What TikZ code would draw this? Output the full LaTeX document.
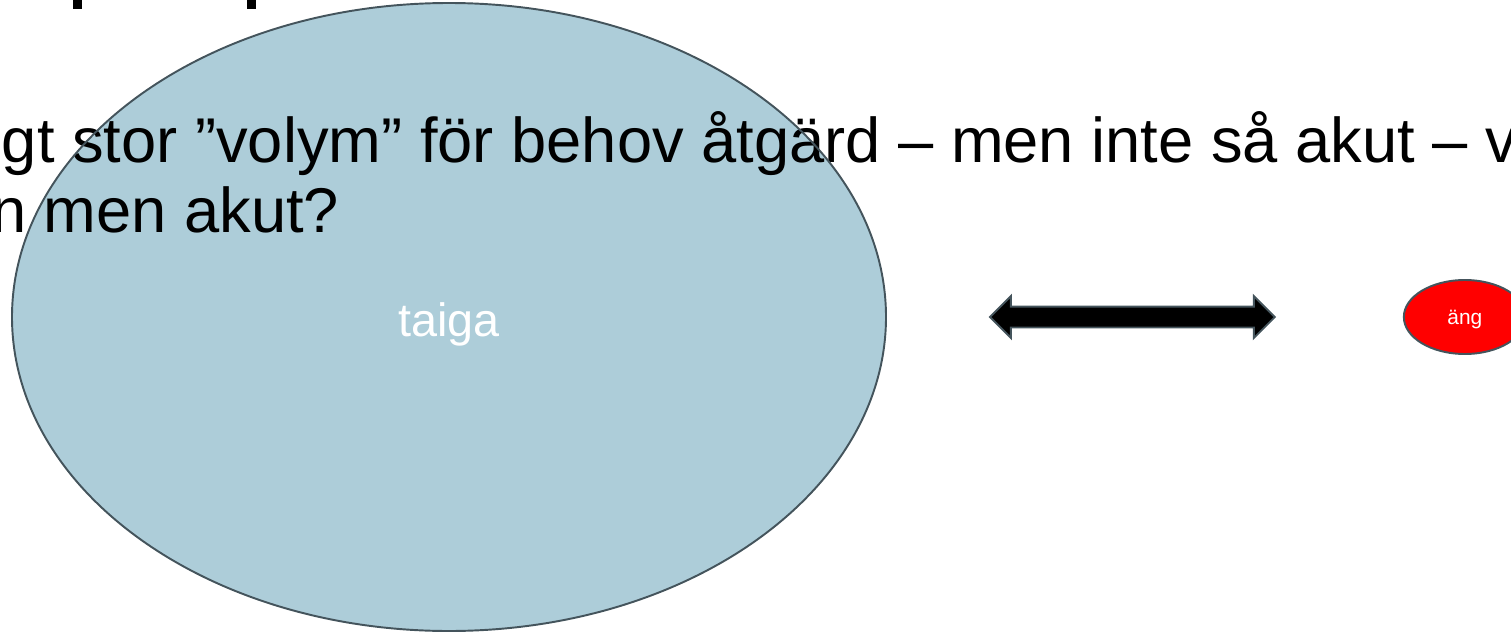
\documentclass[tikz,border=0pt]{standalone}
\usepackage{fontspec}
\setmainfont{Liberation Sans}
\usepackage{tikz}
\usetikzlibrary{positioning, shapes.geometric, shapes.arrows}
\definecolor{rand}{HTML}{44545C}
\definecolor{taigablau}{HTML}{ADCDD9}
\tikzset{x=0.02cm, y=-0.02cm, every node/.style={inner sep=0pt, outer sep=0pt},
	biotop/.style={ellipse, line width=1.1pt},
	frage/.style={anchor=base west, text=black, font=\fontsize{36}{40}\selectfont},
	pil/.style={double arrow, draw=rand, fill=black, line width=1.1pt, inner xsep=0pt, inner ysep=0.19cm, minimum height=5.70cm, double arrow head extend=0.21cm, double arrow tip angle=90}}

\begin{document}
\begin{tikzpicture}
	\useasboundingbox (0,0) rectangle (1511,632);
	\fill (73,0) rectangle (82,9);
	\fill (247,0) rectangle (256,9);

	\node[biotop, fill=taigablau, minimum width=17.48cm, minimum height=12.56cm] (taiga) at (449,317) {};
	\node[frage] (zeile1) at (2,162) {gt stor ”volym” för behov åtgärd – men inte så akut – v};
	\node[frage] (zeile2) at (-9,232) {n men akut?};
	% kanten ueber dem text
	\draw[rand, line width=1.1pt] (taiga.center) ellipse [x radius=437, y radius=314];
	\node[text=white, font=\fontsize{26.6}{30}\selectfont] at ([yshift=-0.14cm]taiga.center) {taiga};

	\node[pil, right=2.08cm of taiga] (pil) {};
	\node[biotop, draw=rand, fill=red, minimum width=2.44cm, minimum height=1.48cm, text=white, font=\fontsize{11.9}{14}\selectfont, text depth=0pt, right=2.58cm of pil] (ang) {äng};
\end{tikzpicture}
\end{document}
